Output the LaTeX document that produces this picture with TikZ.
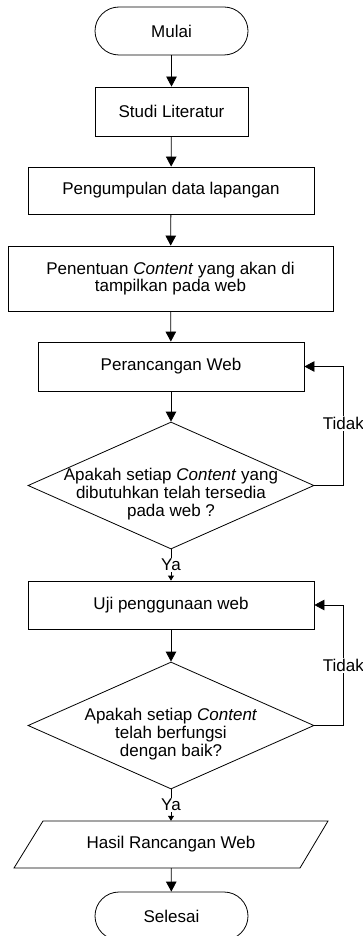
\documentclass[tikz,border=0pt]{standalone}
\usepackage{fontspec}
\setmainfont{Liberation Sans}
\usetikzlibrary{arrows.meta,shapes.geometric}
\begin{document}
\begin{tikzpicture}[x=1pt,y=-1pt,
  every node/.style={font=\fontsize{17}{17.7}\selectfont, inner sep=0pt},
  box/.style={draw, line width=0.8pt, rectangle, align=center},
  term/.style={draw, line width=0.8pt, rectangle, rounded corners=24pt, minimum width=153pt, minimum height=48pt},
  dec/.style={draw, line width=0.8pt, diamond, minimum width=286pt, minimum height=127pt},
  flow/.style={line width=0.8pt, -{Triangle[width=10.5pt,length=10pt]}},
  flowsmall/.style={line width=0.8pt, -{Triangle[width=6pt,length=5pt]}},
  lbl/.style={fill=white, inner sep=1pt}
]
\useasboundingbox[fill=white] (0,0) rectangle (363,936);

\node[term] (mulai) at (171.5,31) {Mulai};
\node[box, minimum width=153pt, minimum height=49pt] (studi) at (171.5,111.5) {Studi Literatur};
\node[box, minimum width=286pt, minimum height=47pt] (kumpul) at (171,190.5) {Pengumpulan data lapangan};
\node[box, minimum width=325pt, minimum height=65pt] (tentu) at (170.5,278.5) {Penentuan \textit{Content} yang akan di\\tampilkan pada web};
\node[box, minimum width=266pt, minimum height=49pt] (rancang) at (171,366.5) {Perancangan Web};
\node[dec] (d1) at (171,485.5) {};
\node[align=center] (t1) at (171,494) {Apakah setiap \textit{Content} yang\\dibutuhkan telah tersedia\\pada web ?};
\node[box, minimum width=286pt, minimum height=48pt] (uji) at (171,605) {Uji penggunaan web};
\node[dec] (d2) at (171,725.5) {};
\node[align=center] (t2) at (171,734) {Apakah setiap \textit{Content}\\telah berfungsi\\dengan baik?};
\draw[line width=0.8pt] (43,821) -- (328,821) -- (300,868) -- (14,868) -- cycle;
\node[minimum width=286pt, minimum height=47pt] (hasil) at (171,844.5) {Hasil Rancangan Web};
\node[term] (selesai) at (171.5,916) {Selesai};

\draw[flow] (mulai) -- (studi);
\draw[flow] (studi) -- (kumpul);
\draw[flow] (kumpul) -- (tentu);
\draw[flow] (tentu) -- (rancang);
\draw[flow] (rancang) -- (d1.north);
\draw[flowsmall] (d1.south) -- node[lbl]{Ya} (uji.north);
\draw[flow] (d1.east) -- ++(29,0) |- node[lbl,pos=0.26]{Tidak} (rancang.east);
\draw[flow] (uji) -- (d2.north);
\draw[flowsmall] (d2.south) -- node[lbl]{Ya} (hasil.north);
\draw[flow] (d2.east) -- ++(29,0) |- node[lbl,pos=0.25]{Tidak} (uji.east);
\draw[flow] (hasil) -- (selesai);
\end{tikzpicture}
\end{document}
